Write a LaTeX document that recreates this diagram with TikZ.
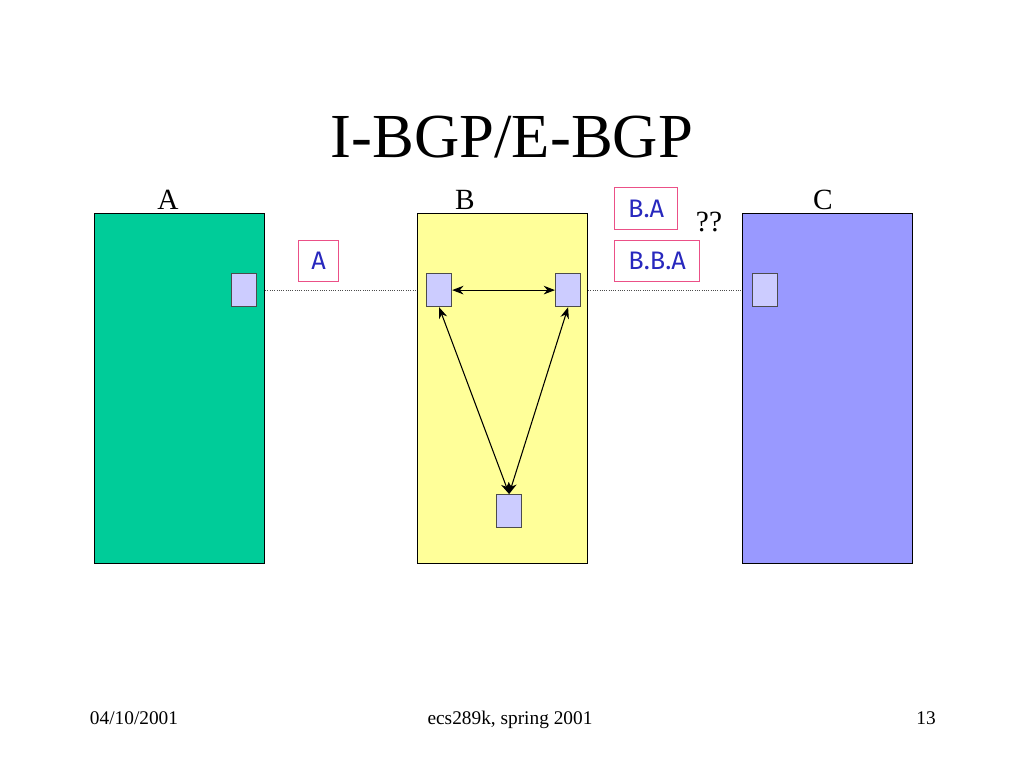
\documentclass[tikz,border=0pt]{standalone}
\usepackage{fontspec}
\setmainfont{Liberation Serif}
\newfontfamily\lblfont{Fira Sans}
\usetikzlibrary{arrows.meta}
\definecolor{asgreen}{RGB}{0,204,153}
\definecolor{asyellow}{RGB}{255,255,153}
\definecolor{asblue}{RGB}{153,153,255}
\definecolor{rtr}{RGB}{204,204,255}
\definecolor{pinkb}{RGB}{235,80,135}
\definecolor{lbltext}{RGB}{40,40,190}
\tikzset{
  asbox/.style={draw=black, line width=0.9pt, minimum width=127.5pt, minimum height=262.5pt, anchor=north west, inner sep=0},
  router/.style={draw=black!70, fill=rtr, line width=0.9pt, minimum width=18.75pt, minimum height=24.75pt, anchor=north west, inner sep=0},
  pathlbl/.style={draw=pinkb, line width=1pt, fill=white, font=\lblfont\fontsize{19}{21}\selectfont, text=lbltext, minimum height=30.75pt, inner sep=0, anchor=north west},
  aslbl/.style={font=\fontsize{22}{25}\selectfont},
  foot/.style={font=\fontsize{14.5}{16}\selectfont, anchor=base},
  ebgp/.style={densely dotted, line width=0.7pt, black!70},
  ibgp/.style={{Stealth[length=8.5pt,width=6.5pt]}-{Stealth[length=8.5pt,width=6.5pt]}, line width=0.8pt}
}
\begin{document}
\begin{tikzpicture}[x=0.75pt,y=-0.75pt]
\useasboundingbox (0,0) rectangle (1024,768);
\node[font=\fontsize{47}{52}\selectfont] (title) at (512,137) {I-BGP/E-BGP};
\node[asbox, fill=asgreen] (asA) at (94,213) {};
\node[asbox, fill=asyellow] (asB) at (417,213) {};
\node[asbox, fill=asblue] (asC) at (742,213) {};
\node[aslbl] (lA) at (168,200) {A};
\node[aslbl] (lB) at (465,200) {B};
\node[aslbl] (lC) at (823,200) {C};
\node[router] (rA) at (231,273) {};
\node[router] (rB1) at (426,273) {};
\node[router] (rB2) at (555,273) {};
\node[router] (rB3) at (496,494) {};
\node[router] (rC) at (752,273) {};
\draw[ebgp] (asA.east |- rA.east) -- (asB.west |- rA.east);
\draw[ebgp] (asB.east |- rB2.east) -- (asC.west |- rB2.east);
\draw[ibgp] (rB1.east) -- (rB2.west);
\draw[ibgp] (rB1.south) -- (rB3.north);
\draw[ibgp] (rB2.south) -- (rB3.north);
\node[pathlbl, minimum width=30pt] (pA) at (298,240) {A};
\node[pathlbl, minimum width=47.25pt, minimum height=31.5pt] (pBA) at (614,187) {B.A};
\node[pathlbl, minimum width=63.75pt] (pBBA) at (614,240) {B.B.A};
\node[aslbl] (qq) at (709,222) {??};
\node[foot] (f1) at (134,724) {04/10/2001};
\node[foot] (f2) at (510,724) {ecs289k, spring 2001};
\node[foot] (f3) at (926,724) {13};
\end{tikzpicture}
\end{document}
